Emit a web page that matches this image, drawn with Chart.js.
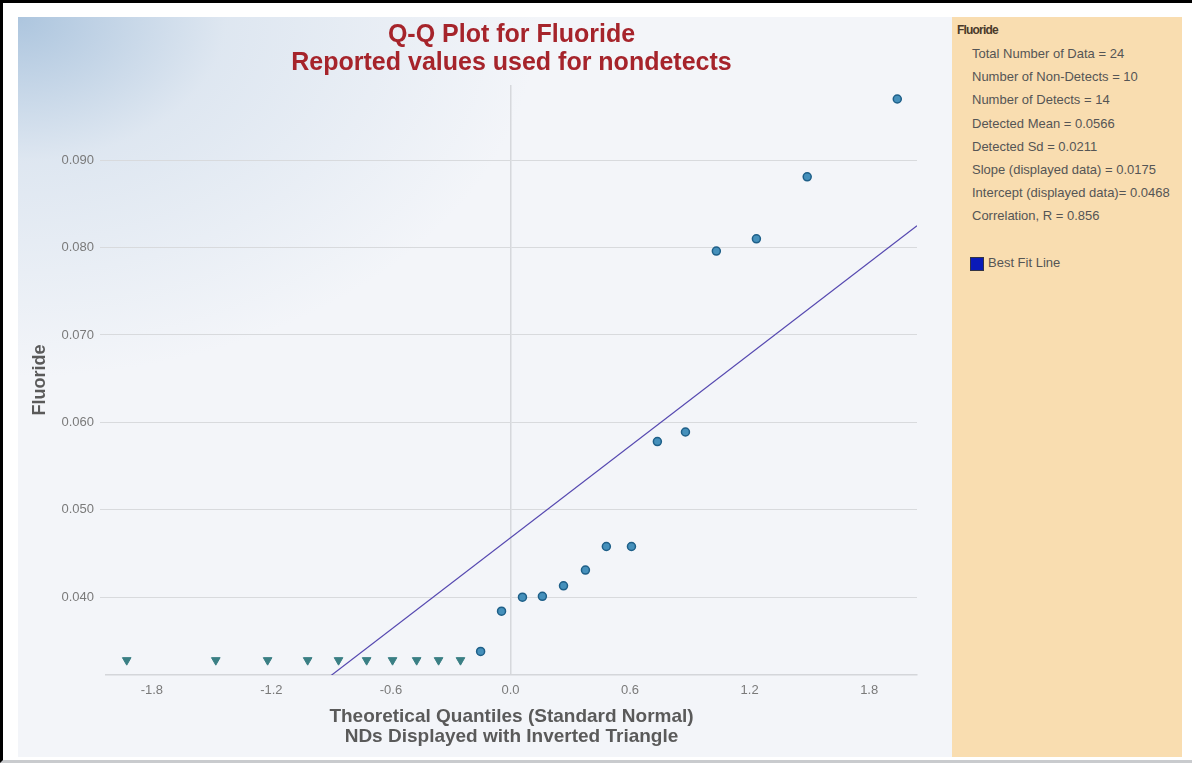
<!DOCTYPE html>
<html lang="en">
<head>
  <meta charset="UTF-8" />
  <title>Q-Q Plot for Fluoride</title>
  <script src="https://cdn.jsdelivr.net/npm/chart.js"></script>
  <style>
    html, body {
      margin: 0;
      padding: 0;
      background: #fff;
      font-family: Arial, "Liberation Sans", sans-serif;
    }
    .frame {
      position: absolute;
      left: 0; top: 0;
      width: 1189px; height: 757px;
      border-left: 3px solid #000;
      border-top: 3px solid #000;
      border-bottom: 3px solid #c9cbce;
    }
    .plot {
      position: absolute;
      left: 18px; top: 17px;
      width: 934px; height: 740px;
      background:
        radial-gradient(ellipse 520px 360px at 0 0, rgba(165,192,219,0.9) 0%, rgba(205,219,234,0.55) 40%, rgba(243,245,249,0) 100%),
        #f3f5f9;
    }
    .side {
      position: absolute;
      left: 952px; top: 17px;
      width: 230px; height: 740px;
      background: #f9ddb0;
      color: #555;
      font-size: 13px;
    }
    .side h4 {
      margin: 0;
      position: absolute;
      left: 5px; top: 6px;
      font-size: 12px;
      letter-spacing: -0.8px;
      color: #4a3a2a;
    }
    .side .row {
      position: absolute;
      left: 20px;
      white-space: nowrap;
    }
    .side .box {
      position: absolute;
      left: 18px; top: 240px;
      width: 12px; height: 12px;
      background: #0a1ab8;
      border: 1px solid #334;
    }
  </style>
</head>
<body>
<div class="frame"></div>
<div class="plot"><canvas id="qq" width="934" height="740"></canvas></div>
<div class="side" id="side">
  <h4>Fluoride</h4>
  <div class="box"></div>
  <div class="row" style="left:36px; top:238px;">Best Fit Line</div>
</div>

<script>
  // detected values against their normal quantiles
  const detectQ = [-0.150, -0.045, 0.060, 0.160, 0.266, 0.376, 0.481, 0.607, 0.737, 0.878, 1.033, 1.234, 1.489, 1.941];
  const detectVals = [0.0338, 0.0384, 0.0400, 0.0401, 0.0413, 0.0431, 0.0458, 0.0458, 0.0578, 0.0589, 0.0796, 0.0810, 0.0881, 0.0970];

  // nondetects (reported values), drawn as inverted triangles
  const ndQ = [-1.926, -1.479, -1.219, -1.018, -0.863, -0.722, -0.592, -0.471, -0.361, -0.251];
  const ndVals = [0.0328, 0.0328, 0.0328, 0.0328, 0.0328, 0.0328, 0.0328, 0.0328, 0.0328, 0.0328];

  const xTicks = [-1.8, -1.2, -0.6, 0.0, 0.6, 1.2, 1.8];
  const yTicks = [0.040, 0.050, 0.060, 0.070, 0.080, 0.090];

  const slope = 0.0175;
  const intercept = 0.0468;

  const stats = [
    "Total Number of Data = 24",
    "Number of Non-Detects = 10",
    "Number of Detects = 14",
    "Detected Mean = 0.0566",
    "Detected Sd = 0.0211",
    "Slope (displayed data) = 0.0175",
    "Intercept (displayed data)= 0.0468",
    "Correlation, R = 0.856"
  ];

  const X_MIN = -2.03, X_MAX = 2.04;
  const Y_MIN = 0.0311, Y_MAX = 0.0986;

  // stats list in the side panel
  const side = document.getElementById("side");
  stats.forEach((s, i) => {
    const d = document.createElement("div");
    d.className = "row";
    d.style.top = (29 + i * 23.2) + "px";
    d.textContent = s;
    side.appendChild(d);
  });

  const toPts = (xs, ys) => xs.map((x, i) => ({ x: x, y: ys[i] }));

  new Chart(document.getElementById("qq"), {
    type: "scatter",
    data: {
      datasets: [
        {
          label: "Best Fit Line",
          type: "line",
          data: [
            { x: X_MIN, y: intercept + slope * X_MIN },
            { x: X_MAX, y: intercept + slope * X_MAX }
          ],
          borderColor: "#5548b0",
          borderWidth: 1.2,
          pointRadius: 0,
          fill: false
        },
        {
          label: "Detects",
          data: toPts(detectQ, detectVals),
          pointStyle: "circle",
          pointRadius: 4,
          backgroundColor: "#4590bb",
          borderColor: "#1e5f88",
          borderWidth: 1.5
        },
        {
          label: "Nondetects",
          data: toPts(ndQ, ndVals),
          pointStyle: "triangle",
          rotation: 180,
          pointRadius: 5,
          backgroundColor: "#3a7f84",
          borderColor: "#3a7f84",
          borderWidth: 1
        }
      ]
    },
    options: {
      responsive: false,
      animation: false,
      layout: { padding: { left: 0, right: 35, top: 0, bottom: 0 } },
      plugins: {
        legend: { display: false },
        tooltip: { enabled: false },
        title: {
          display: true,
          fullSize: false,
          text: ["Q-Q Plot for Fluoride", "Reported values used for nondetects"],
          color: "#a6242b",
          font: { family: "Arial", size: 25, weight: "bold", lineHeight: 1.12 },
          padding: { top: 4, bottom: 8 }
        }
      },
      scales: {
        x: {
          type: "linear",
          min: X_MIN,
          max: X_MAX,
          afterBuildTicks: (s) => { s.ticks = xTicks.map(v => ({ value: v })); },
          afterFit: (s) => { s.height = 82; },
          ticks: {
            color: "#7a7a7a",
            font: { family: "Arial", size: 13 },
            padding: 8,
            callback: (v) => v.toFixed(1)
          },
          grid: {
            drawTicks: false,
            tickLength: 0,
            color: (c) => (c.tick && c.tick.value === 0 ? "#d6d8dc" : "rgba(0,0,0,0)"),
            lineWidth: 1.5
          },
          border: { display: true, color: "#d4d6da", width: 1.5 },
          title: {
            display: true,
            text: ["Theoretical Quantiles (Standard Normal)", "NDs Displayed with Inverted Triangle"],
            color: "#5a5a5a",
            font: { family: "Arial", size: 19, weight: "bold", lineHeight: 1.06 },
            padding: { top: 0, bottom: 10 }
          }
        },
        y: {
          type: "linear",
          min: Y_MIN,
          max: Y_MAX,
          afterBuildTicks: (s) => { s.ticks = yTicks.map(v => ({ value: v })); },
          afterFit: (s) => { s.width = 88; },
          ticks: {
            color: "#7a7a7a",
            font: { family: "Arial", size: 13 },
            padding: 6,
            callback: (v) => v.toFixed(3)
          },
          grid: {
            color: "#d8dadd",
            lineWidth: 1,
            drawTicks: true,
            tickLength: 6
          },
          border: { display: false },
          title: {
            display: true,
            text: "Fluoride",
            color: "#5a5a5a",
            font: { family: "Arial", size: 18, weight: "bold", lineHeight: 1.2 },
            padding: { top: 11, bottom: 0 }
          }
        }
      }
    }
  });
</script>
</body>
</html>
